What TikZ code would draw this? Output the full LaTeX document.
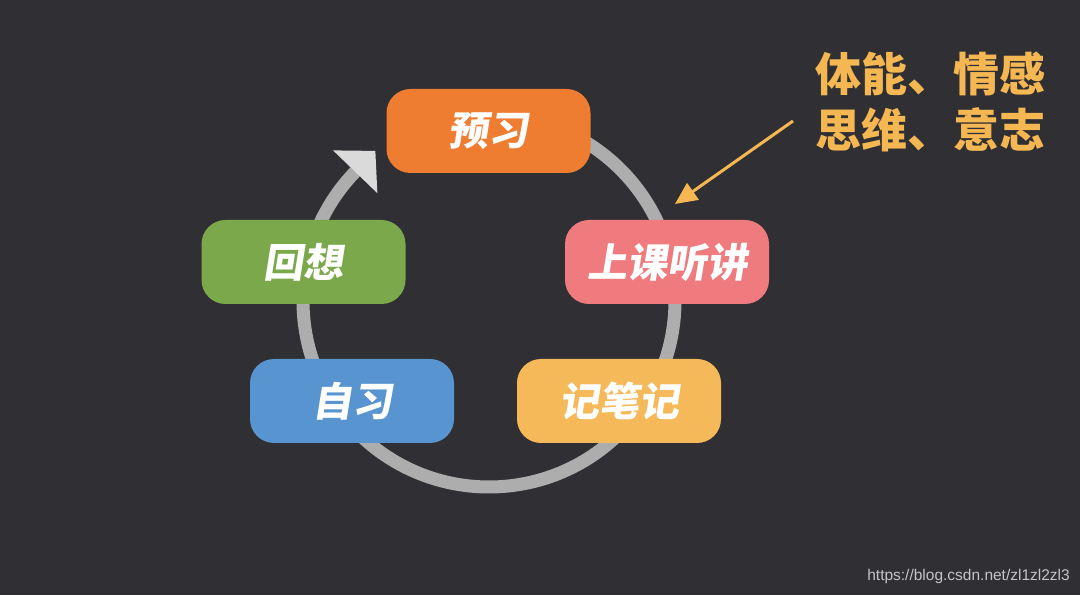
\documentclass[tikz,border=0pt]{standalone}
\usepackage{fontspec}
\setmainfont{Liberation Sans}
\newfontfamily\cjk{Noto Sans CJK SC}
\newfontfamily\cjkit{Noto Sans CJK SC}[FakeSlant=0.16]
\usetikzlibrary{arrows.meta,calc}
\definecolor{bgc}{HTML}{302F34}
\definecolor{cOrange}{HTML}{EE7D31}
\definecolor{cGreen}{HTML}{7BA84B}
\definecolor{cBlue}{HTML}{5894CF}
\definecolor{cPink}{HTML}{EF7B7E}
\definecolor{cYellow}{HTML}{F5B95A}
\definecolor{cGold}{HTML}{F4B752}
\definecolor{ringc}{HTML}{ADADAD}
\definecolor{headc}{HTML}{DADADA}
\definecolor{wmc}{HTML}{C4C4C4}
\begin{document}
\begin{tikzpicture}[x=1pt,y=1pt,
  stage/.style={rounded corners=24pt, minimum width=204pt, minimum height=84pt,
    inner sep=0pt, text=white, font=\cjkit\bfseries\fontsize{40pt}{48pt}\selectfont},
  ringline/.style={draw=ringc, line width=13pt},
  pointer/.style={draw=cGold, line width=3pt, -{Triangle[length=22pt,width=20pt]}},
]
\fill[bgc] (0,0) rectangle (1080,595);
\useasboundingbox (0,0) rectangle (1080,595);
\coordinate (c) at (489,294);
% ring
\draw[ringline] ($(c)+(134:186pt)$) arc[start angle=134, end angle=450, radius=186pt];
% arrowhead of ring
\coordinate (hA) at ($(c)+(136:216.8pt)$);
\coordinate (hB) at ($(c)+(136:155.2pt)$);
\coordinate (hT) at ($(c)+(136:186pt)+(46:29pt)$);
\fill[headc] (hA) -- (hT) -- (hB) -- cycle;
% stages
\node[stage, fill=cOrange] (yx) at (488.5,464) {预习};
\node[stage, fill=cGreen] (hx) at (303.5,333) {回想};
\node[stage, fill=cPink] (sk) at (667,333) {上课听讲};
\node[stage, fill=cBlue] (zx) at (352,194) {自习};
\node[stage, fill=cYellow] (bj) at (619,194) {记笔记};
% annotation
\node[anchor=west, inner sep=0pt, align=left, text=cGold,
  font=\cjk\bfseries\fontsize{46pt}{56pt}\selectfont] (att) at (815,493) {体能、情感\\思维、意志};
\coordinate (p1) at (793,474);
\coordinate (p2) at (675,391);
\draw[pointer] (p1) -- (p2);
% watermark
\node[anchor=east, inner sep=0pt, text=wmc, font=\fontsize{15.5pt}{18pt}\selectfont] (wm) at (1070,19) {https://blog.csdn.net/zl1zl2zl3};
\end{tikzpicture}
\end{document}
